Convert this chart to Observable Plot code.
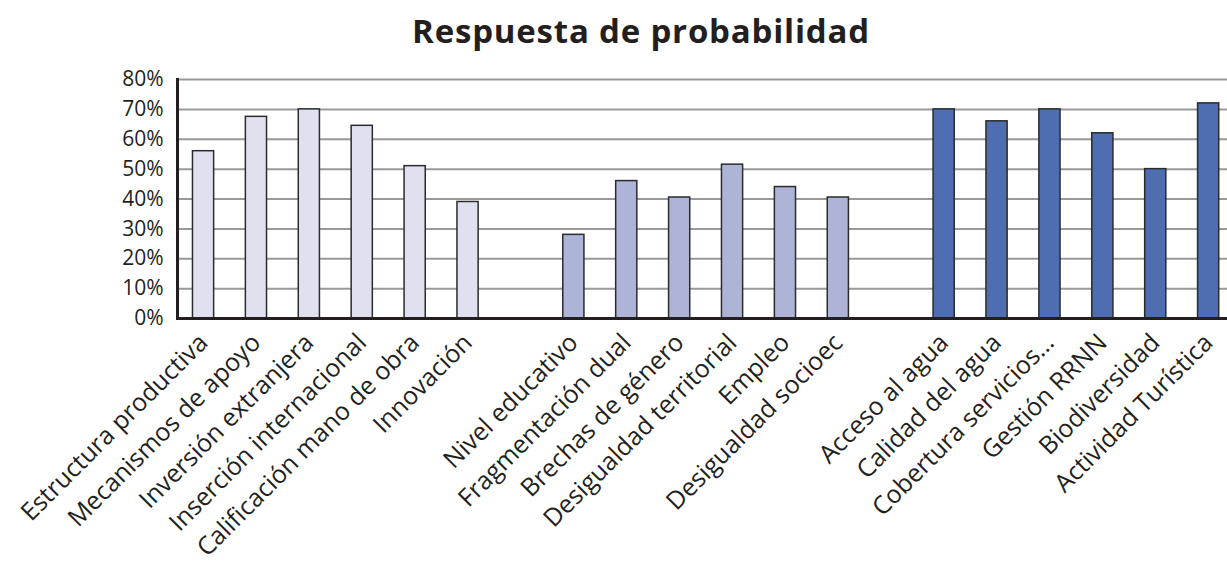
<!DOCTYPE html>
<html><head><meta charset="utf-8">
<script src="https://cdn.jsdelivr.net/npm/d3@7"></script>
<script src="https://cdn.jsdelivr.net/npm/@observablehq/plot@0.6"></script>
<style>
body{margin:0;background:#fff;width:1227px;height:563px;overflow:hidden;}
#title{position:relative;height:62px;font-family:"Open Sans",sans-serif;font-weight:700;font-size:33px;color:#231f20;}
#title span{position:absolute;left:641px;top:8px;transform:translateX(-50%);white-space:nowrap;letter-spacing:0.8px;}
#chart svg{display:block;font-family:"Open Sans",sans-serif;}
#chart svg text{font-family:"Open Sans",sans-serif;}
</style></head>
<body>
<div id="title"><span>Respuesta de probabilidad</span></div>
<div id="chart"></div>
<script>
const groupA = ["Estructura productiva","Mecanismos de apoyo","Inversión extranjera","Inserción internacional","Calificación mano de obra","Innovación"];
const valuesA = [56, 67.5, 70, 64.5, 51, 39];
const groupB = ["Nivel educativo","Fragmentación dual","Brechas de género","Desigualdad territorial","Empleo","Desigualdad socioec"];
const valuesB = [28, 46, 40.5, 51.5, 44, 40.5];
const groupC = ["Acceso al agua","Calidad del agua","Cobertura servicios…","Gestión RRNN","Biodiversidad","Actividad Turística"];
const valuesC = [70, 66, 70, 62, 50, 72];
const yTicks = [0,10,20,30,40,50,60,70,80];
const colors = ["#dfe1f0","#adb4d8","#4f6db1"];

const gap1 = "\u2009", gap2 = "\u2009\u2009";
const domain = [...groupA, gap1, ...groupB, gap2, ...groupC];
const data = [
  ...groupA.map((c,i)=>({cat:c,value:valuesA[i],group:"A"})),
  ...groupB.map((c,i)=>({cat:c,value:valuesB[i],group:"B"})),
  ...groupC.map((c,i)=>({cat:c,value:valuesC[i],group:"C"}))
];

const chart = Plot.plot({
  width: 1227,
  height: 501,
  marginLeft: 177,
  marginRight: 0,
  marginTop: 17,
  marginBottom: 245,
  style: {fontFamily: "Open Sans", fontSize: "20px", color: "#231f20", background: "#fff"},
  x: {domain, range: [176.6, 1234.6], paddingInner: 0.6, paddingOuter: 0.3, align: 0.5, round: false},
  y: {domain: [0, 80]},
  color: {domain: ["A","B","C"], range: colors},
  marks: [
    Plot.ruleY(yTicks.filter(d=>d>0), {stroke: "#999", strokeWidth: 2}),
    Plot.barY(data, {x: "cat", y: "value", fill: "group", stroke: "#2b2b2b", strokeWidth: 1.5}),
    Plot.ruleY([0], {stroke: "#231f20", strokeWidth: 3}),
    Plot.frame({anchor: "left", stroke: "#231f20", strokeWidth: 3}),
    Plot.axisY({ticks: yTicks, tickSize: 0, tickPadding: 14, tickFormat: d => d + "%", fontSize: 21, label: null}),
    Plot.axisX({tickSize: 0, tickRotate: -45, tickPadding: 20, fontSize: 25, label: null, tickFormat: d => d.trim() === "" ? "" : d})
  ]
});
document.getElementById("chart").appendChild(chart);
</script>
</body></html>
